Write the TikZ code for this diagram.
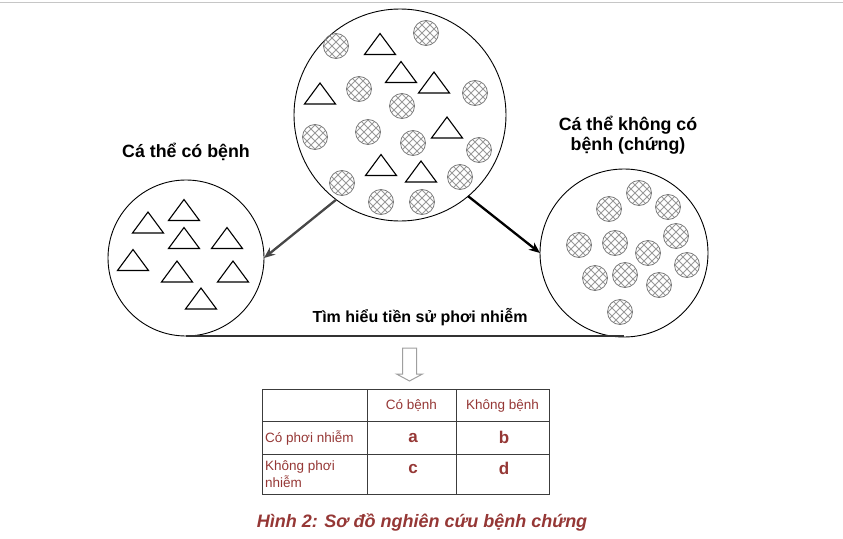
\documentclass[tikz,border=0pt]{standalone}
\usepackage{fontspec}
\setmainfont{Liberation Sans}
\usetikzlibrary{arrows.meta,calc}
\definecolor{capred}{RGB}{149,55,53}
\definecolor{tblline}{RGB}{60,60,60}
\begin{document}
\begin{tikzpicture}[x=1pt,y=-1pt,
  popc/.style={circle,draw=black,line width=0.9pt,inner sep=0pt,outer sep=0pt},
  hatchline/.style={draw=gray!80,line width=1pt},
  tri/.pic={\draw[black,line width=1.1pt,line join=miter] (-15.5,10.5)--(0,-10.5)--(15.5,10.5)--cycle;},
  hc/.pic={\begin{scope}\clip (0,0) circle (12.5);
     \foreach \d in {-36,-28,...,36}{\draw[hatchline] ({\d-15},-15)--({\d+15},15); \draw[hatchline] ({\d-15},15)--({\d+15},-15);}
     \end{scope}\draw[draw=gray!95!black,line width=0.8pt](0,0) circle (12.5);},
  lbl/.style={font=\bfseries\fontsize{17.8}{20}\selectfont,align=center,inner sep=0pt},
  tt/.style={font=\fontsize{13.5}{17}\selectfont,text=capred,inner sep=0pt},
  tb/.style={font=\bfseries\fontsize{17}{19}\selectfont,text=capred,inner sep=0pt},
  tbl/.style={draw=tblline,line width=1pt},
  arr/.style={line width=2.3pt,-{Stealth[length=11pt,width=9pt]}}
]
\useasboundingbox (0,0) rectangle (843,538);
\draw[gray!45,line width=1.5pt] (0,2.5) -- (843,2.5);

% circles
\node[popc,minimum size=212pt] (pop) at (400,115) {};
\node[popc,minimum size=156pt] (cases) at (186,258) {};
\node[popc,minimum size=168pt] (ctrl) at (624,253) {};

% population contents
\foreach \p in {(336,46),(426,33),(359,89),(402,106),(475,93),(315,137),(368,132),(413,143),(479,150),(342,183),(460,177),(381,202),(422,202)}
  \pic at \p {hc};
\foreach \p in {(380,44),(401,72),(434,82.5),(320,93.5),(447,127.5),(381,165),(421,171.5)}
  \pic at \p {tri};

% cases contents
\foreach \p in {(148,222.5),(184,210),(184,238),(227,238),(133,260),(177,271.5),(233,271.5),(201,298.5)}
  \pic at \p {tri};

% controls contents
\foreach \p in {(639,193),(609,209),(668,207),(579,245),(615,243),(676,236),(648,253),(687,265),(595,278),(625,275),(659,285),(620,312)}
  \pic at \p {hc};

% arrows
\draw[arr,draw=black!72,fill=black!72] (pop.233) -- (cases.0);
\draw[arr,draw=black,fill=black] (pop.-50) -- (ctrl.180);

% baseline
\draw[line width=2.5pt,draw=black!80] (cases.south) -- (cases.south -| ctrl.south);

% labels
\node[lbl] (lcase) at (186,152) {Cá thể có bệnh};
\node[lbl] (lctrl) at (628,135) {Cá thể không có\\bệnh (chứng)};
\node[font=\bfseries\fontsize{16}{19}\selectfont,inner sep=0pt] (tim) at (420,317) {Tìm hiểu tiền sử phơi nhiễm};

% hollow down arrow
\draw[draw=gray!75,line width=1pt,fill=white,line join=miter] (402.5,348) -- (416.5,348) -- (416.5,374) -- (422.5,374) -- (409.5,381) -- (396.5,374) -- (402.5,374) -- cycle;

% table
\draw[tbl] (262,389) rectangle (549,494);
\draw[tbl] (367,389) -- (367,494);
\draw[tbl] (456,389) -- (456,494);
\draw[tbl] (262,421) -- (549,421);
\draw[tbl] (262,454) -- (549,454);
\node[tt] (h1) at (411.5,406) {Có bệnh};
\node[tt] (h2) at (502.5,406) {Không bệnh};
\node[tt,anchor=west] (r1) at (265,438) {Có phơi nhiễm};
\node[tt,anchor=west,align=left] (r2) at (265,474) {Không phơi\\nhiễm};
\node[tb] (ca) at (413,438) {a};
\node[tb] (cb) at (504,437) {b};
\node[tb] (cc) at (413,469) {c};
\node[tb] (cd) at (504,468) {d};

% caption
\node[font=\bfseries\itshape\fontsize{18}{20}\selectfont,text=capred,inner sep=0pt] (cap) at (422,522) {Hình 2: Sơ đồ nghiên cứu bệnh chứng};
\end{tikzpicture}
\end{document}
